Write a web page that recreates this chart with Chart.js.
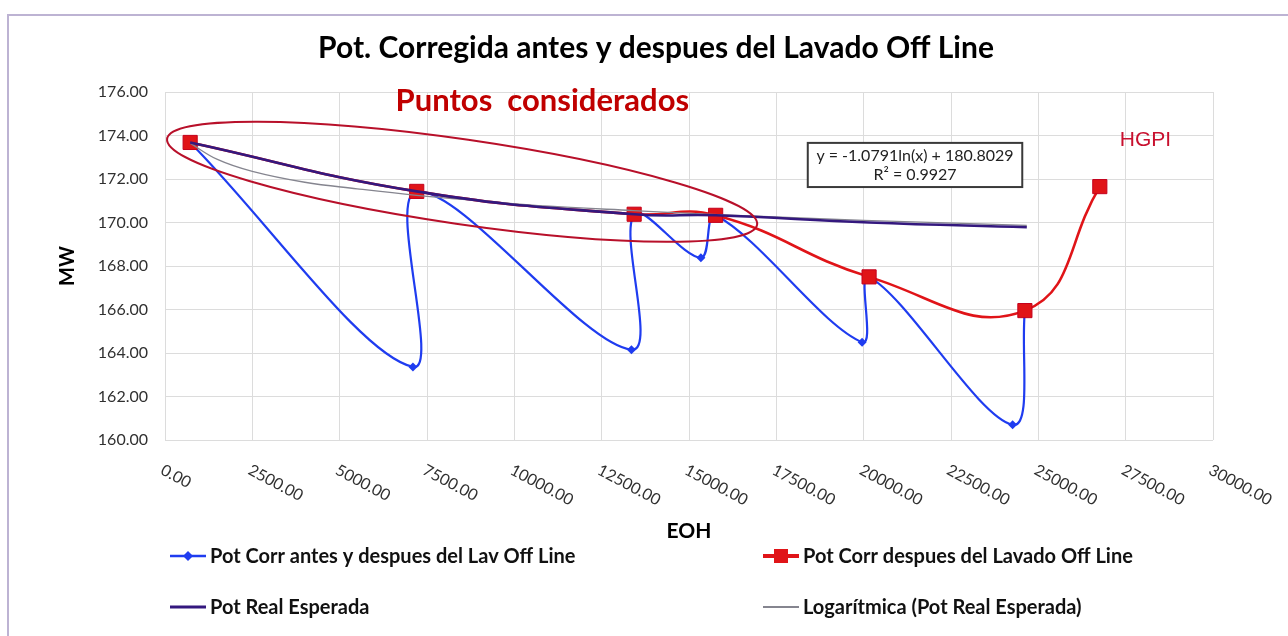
<!DOCTYPE html>
<html lang="es">
<head>
<meta charset="UTF-8" />
<title>Pot. Corregida antes y despues del Lavado Off Line</title>
<script src="https://cdn.jsdelivr.net/npm/chart.js"></script>
<style>
  body { margin: 0; background: #fff; }
  canvas { display: block; }
</style>
</head>
<body>
<canvas id="potChart" width="1288" height="636"></canvas>
<script>
// values (EOH vs MW)
const eohAntesDespues = [720, 7097, 7206, 13352, 13430, 15340, 15763, 19955, 20155, 24264, 24615];
const potAntesDespues = [173.68, 163.36, 171.43, 164.15, 170.38, 168.38, 170.33, 164.5, 167.5, 160.7, 165.95];

const eohDespues = [720, 7206, 13430, 15763, 20155, 24615, 26760];
const potDespues = [173.68, 171.43, 170.38, 170.33, 167.5, 165.95, 171.65];

const eohEsperada = [720, 7206, 13430, 15763, 20155, 24670];
const potEsperada = [173.68, 171.43, 170.38, 170.33, 170.0, 169.78];

const eohLog = [720, 1500, 2500, 4000, 5500, 7200, 9000, 11000, 13400, 16000, 20000, 24670];
const potLog = [173.65, 172.9, 172.35, 171.85, 171.55, 171.25, 171.0, 170.75, 170.55, 170.35, 170.1, 169.87];

const xTicks = [0, 2500, 5000, 7500, 10000, 12500, 15000, 17500, 20000, 22500, 25000, 27500, 30000];
const yTicks = [160, 162, 164, 166, 168, 170, 172, 174, 176];

const seriesNames = [
  'Pot Corr antes y despues del Lav Off Line',
  'Pot Corr despues del Lavado Off Line',
  'Pot Real Esperada',
  'Logarítmica (Pot Real Esperada)'
];

const BLUE = '#1f3cf0';
const RED = '#e01418';
const PURPLE = '#34187e';
const GRAY = '#85858f';
const DARKRED = '#b8102a';

// annotation anchors, in data units
const ellipse = { x1: 60, y1: 173.85, x2: 16950, y2: 169.9, half: 1.95 };
const eqBox = { x1: 18400, x2: 24540, y1: 173.66, y2: 171.63 };

const toXY = (xs, ys) => xs.map((v, i) => ({ x: v, y: ys[i] }));

const extras = {
  id: 'extras',
  beforeDraw(chart) {
    const ctx = chart.ctx;
    ctx.save();
    ctx.fillStyle = '#fff';
    ctx.fillRect(0, 0, chart.width, chart.height);
    ctx.strokeStyle = '#bdb3d3';
    ctx.lineWidth = 2;
    ctx.strokeRect(8, 15, chart.width + 10, chart.height + 10);
    ctx.restore();
  },
  afterDatasetsDraw(chart) {
    const { ctx, chartArea: area } = chart;
    const { x, y } = chart.scales;
    ctx.save();

    // ellipse round the points used for the fit
    const ax = x.getPixelForValue(ellipse.x1), ay = y.getPixelForValue(ellipse.y1);
    const bx = x.getPixelForValue(ellipse.x2), by = y.getPixelForValue(ellipse.y2);
    const unit = Math.abs(y.getPixelForValue(170) - y.getPixelForValue(171));
    ctx.beginPath();
    ctx.ellipse((ax + bx) / 2, (ay + by) / 2, Math.hypot(bx - ax, by - ay) / 2,
      ellipse.half * unit, Math.atan2(by - ay, bx - ax), 0, Math.PI * 2);
    ctx.strokeStyle = DARKRED;
    ctx.lineWidth = 2;
    ctx.stroke();

    // rotated x tick labels
    ctx.fillStyle = '#303030';
    ctx.font = '16px Lato';
    ctx.textAlign = 'left';
    ctx.textBaseline = 'middle';
    xTicks.forEach(v => {
      ctx.save();
      ctx.translate(x.getPixelForValue(v) - 3, area.bottom + 29);
      ctx.rotate(28 * Math.PI / 180);
      ctx.fillText(v.toFixed(2), 0, 0);
      ctx.restore();
    });

    // title and axis titles
    const midX = (area.left + area.right) / 2;
    ctx.textAlign = 'center';
    ctx.fillStyle = '#000';
    ctx.font = 'bold 30px Lato';
    ctx.fillText('Pot. Corregida antes y despues del Lavado Off Line', 656, 48);
    ctx.font = 'bold 21px Lato';
    ctx.fillText('EOH', midX, 531);
    ctx.save();
    ctx.translate(68, (area.top + area.bottom) / 2);
    ctx.rotate(-Math.PI / 2);
    ctx.font = 'bold 20px Lato';
    ctx.fillText('MW', 0, 0);
    ctx.restore();

    // notes
    ctx.textAlign = 'left';
    ctx.fillStyle = '#c00000';
    ctx.font = 'bold 31px Lato';
    ctx.fillText('Puntos  considerados', x.getPixelForValue(6600), 101);
    ctx.fillStyle = '#c8102e';
    ctx.font = '21px "Liberation Sans"';
    ctx.fillText('HGPI', x.getPixelForValue(27330), y.getPixelForValue(173.8));

    // trendline equation box
    const l = x.getPixelForValue(eqBox.x1), r = x.getPixelForValue(eqBox.x2);
    const t = y.getPixelForValue(eqBox.y1), b = y.getPixelForValue(eqBox.y2);
    ctx.fillStyle = '#fff';
    ctx.fillRect(l, t, r - l, b - t);
    ctx.strokeStyle = '#3a3a3a';
    ctx.lineWidth = 2;
    ctx.strokeRect(l, t, r - l, b - t);
    ctx.fillStyle = '#222';
    ctx.textAlign = 'center';
    ctx.font = '16px Lato';
    ctx.fillText('y = -1.0791ln(x) + 180.8029', (l + r) / 2, t + 13);
    ctx.fillText('R² = 0.9927', (l + r) / 2, t + 32);

    // legend, two columns
    const cols = [170, 763];
    const rows = [556, 607];
    ctx.textAlign = 'left';
    ctx.font = 'bold 20px Lato';
    const items = [
      { c: 0, r: 0, color: BLUE, w: 2.5, mark: 'diamond' },
      { c: 1, r: 0, color: RED, w: 4, mark: 'square' },
      { c: 0, r: 1, color: PURPLE, w: 3 },
      { c: 1, r: 1, color: GRAY, w: 2 }
    ];
    items.forEach((it, i) => {
      const lx = cols[it.c], ly = rows[it.r];
      ctx.strokeStyle = it.color;
      ctx.lineWidth = it.w;
      ctx.beginPath();
      ctx.moveTo(lx, ly);
      ctx.lineTo(lx + 36, ly);
      ctx.stroke();
      ctx.fillStyle = it.color;
      if (it.mark === 'diamond') {
        ctx.beginPath();
        ctx.moveTo(lx + 18, ly - 5);
        ctx.lineTo(lx + 23, ly);
        ctx.lineTo(lx + 18, ly + 5);
        ctx.lineTo(lx + 13, ly);
        ctx.closePath();
        ctx.fill();
      } else if (it.mark === 'square') {
        ctx.fillRect(lx + 11, ly - 7, 14, 14);
      }
      ctx.fillStyle = '#111';
      ctx.fillText(seriesNames[i], lx + 40, ly + 1);
    });

    ctx.restore();
  }
};

new Chart(document.getElementById('potChart'), {
  type: 'line',
  data: {
    datasets: [
      {
        label: seriesNames[0],
        data: toXY(eohAntesDespues, potAntesDespues),
        borderColor: BLUE,
        backgroundColor: BLUE,
        borderWidth: 2.2,
        pointStyle: 'rectRot',
        pointRadius: 4.5,
        pointBorderWidth: 0,
        tension: 0.35,
        order: 4
      },
      {
        label: seriesNames[1],
        data: toXY(eohDespues, potDespues),
        borderColor: RED,
        backgroundColor: RED,
        borderWidth: 2.6,
        pointStyle: 'rect',
        pointRadius: 10,
        pointBorderColor: '#c4001c',
        pointBorderWidth: 1,
        tension: 0.45,
        order: 3
      },
      {
        label: seriesNames[2],
        data: toXY(eohEsperada, potEsperada),
        borderColor: PURPLE,
        borderWidth: 2.6,
        pointRadius: 0,
        tension: 0.45,
        order: 1
      },
      {
        label: seriesNames[3],
        data: toXY(eohLog, potLog),
        borderColor: GRAY,
        borderWidth: 1.3,
        pointRadius: 0,
        tension: 0.4,
        order: 2
      }
    ]
  },
  options: {
    responsive: false,
    animation: false,
    layout: { padding: { top: 92, right: 75, left: 0, bottom: 0 } },
    plugins: {
      legend: { display: false },
      tooltip: { enabled: false }
    },
    scales: {
      x: {
        type: 'linear',
        min: xTicks[0],
        max: xTicks[xTicks.length - 1],
        ticks: { display: false, stepSize: 2500 },
        grid: { color: '#dcdcdc', drawTicks: false },
        border: { display: false },
        afterFit: s => { s.height = 196; }
      },
      y: {
        min: yTicks[0],
        max: yTicks[yTicks.length - 1],
        ticks: {
          stepSize: 2,
          padding: 17,
          color: '#303030',
          font: { family: 'Lato', size: 16 },
          callback: v => v.toFixed(2)
        },
        grid: { color: '#dcdcdc', drawTicks: false },
        border: { display: false },
        afterFit: s => { s.width = 165; }
      }
    }
  },
  plugins: [extras]
});
</script>
</body>
</html>
